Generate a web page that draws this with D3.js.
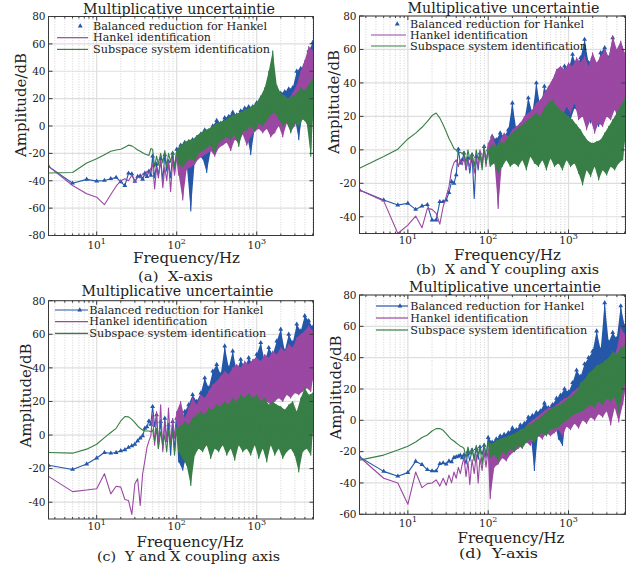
<!DOCTYPE html>
<html>
<head>
<meta charset="utf-8">
<script src="https://cdn.jsdelivr.net/npm/d3@7"></script>
<style>
body { margin: 0; background: #fff; }
text { font-family: "DejaVu Serif", serif; fill: #222; }
</style>
</head>
<body>
<svg id="fig" width="633" height="574"></svg>
<script>
// frequency grid: 2.5 Hz steps below 50 Hz, thinned log steps above
var fLow = [2.5, 5, 7.5, 10, 12.5, 15, 17.5, 20, 22.5, 25, 27.5, 30, 32.5, 35, 37.5, 40, 42.5, 45, 47.5];
var fDense = [50, 53, 56, 59, 63, 67, 71, 75, 79, 84, 89, 94,
  100, 106, 112, 119, 126, 133, 141, 150, 158, 168, 178, 188,
  200, 211, 224, 237, 251, 266, 282, 299, 316, 335, 355, 376,
  398, 422, 447, 473, 501, 531, 562, 596, 631, 668, 708, 750,
  794, 841, 891, 944, 1000, 1059, 1122, 1189, 1259, 1334, 1413, 1496,
  1585, 1679, 1778, 1884, 1995, 2113, 2239, 2371, 2512, 2661, 2818, 2985,
  3162, 3350, 3548, 3758, 3981, 4217, 4467, 4732, 5012, 5120];

var legendNames = ['Balanced reduction for Hankel', 'Hankel identification', 'Subspace system identification'];
var xTickLabels = ['1', '2', '3'];

// (a) X-axis
var aBlueLow = [-29.5, -41.8, -39, -40.3, -39.8, -38.5, -37.6, -40.8, -43.5, -34.5, -35, -40.5, -37, -36.5, -39, -34.5, -37, -33, -36];
var aHankLow = [-29.5, -43.5, -49.5, -52, -57.5, -50, -44, -40, -38.5, -40, -36, -41, -37.5, -38, -35, -36.5, -33, -35, -31];
var aSubLow = [-34.3, -34, -27, -24, -21, -18.5, -17.5, -17, -15.5, -14, -14.5, -16, -17.5, -18.5, -19.5, -20.5, -21, -21.5, -16.5];
var aBlueDense = [-22, -38, -28, -36, -24, -40, -21, -33, -26, -38, -20, -34,
  -17, -30, -14, -33, -12, -28, -15, -62, -10, -26, -9, -22,
  -6, -24, -3, -34, -4, -18, 0, -16, 4, -14, 2, -12,
  6, -10, 7, -8, 10, -6, 8, -8, 11, -4, 13, -6,
  14, -21, 14, -2, 17, 0, 20, 2, 21, 4, 24, -2,
  24, 2, 22, 4, 24, 0, 25, 5, 27, 2, 28, 6,
  40, -10, 42, 10, 45, 15, 55, 20, 61, 35];
var aHankDense = [-28, -46, -30, -38, -25, -45, -30, -40, -26, -48, -24, -36,
  -22, -36, -20, -54, -16, -32, -14, -30, -12, -28, -10, -24,
  -8, -22, -6, -20, -5, -18, -3, -22, 0, -16, -2, -14,
  2, -12, 3, -18, 5, -10, 6, -12, 8, -6, 10, -14,
  10, -8, 12, -4, 14, -2, 15, -5, 16, -2, 18, -8,
  20, -5, 18, 0, 20, -8, 22, 2, 20, -4, 24, 0,
  30, 8, 40, 15, 48, 18, 58, 22, 55, 30];
var aSubDense = [-17, -30, -22, -28, -20, -27, -18, -30, -20, -26, -19, -30,
  -18, -28, -14, -30, -12, -26, -10, -24, -10, -26, -7, -20,
  -5, -18, -3, -16, -2, -14, 0, -20, 2, -12, 3, -10,
  4, -8, 6, -10, 8, -6, 9, -15, 10, -4, 12, -3,
  13, 0, 15, -4, 17, 2, 22, 0, 28, 4, 40, 8,
  55, 10, 30, 5, 24, 0, 22, 3, 20, -5, 22, 2,
  24, 0, 28, 5, 26, 2, 30, -22, 35, 12];

// (b) X and Y coupling axis
var bBlueLow = [-24, -30, -33, -32, -35.6, -33.6, -32.8, -42, -42, -31, -31, -30, -25.6, -19, -20, -15, 0.4, -8, -6];
var bHankLow = [-24, -30.5, -50, -45, -39.6, -46.6, -35, -35.6, -38, -44.4, -34, -28, -22, -12, -7.6, -6, -10, -6, -9];
var bSubLow = [-11, -4, 0.4, 6.5, 10, 13.5, 17, 20.5, 22, 19, 15, 10.8, 6.8, 3.8, 0.8, -0.2, -1.8, -1.4, -2.2];
var bBlueDense = [-2, -12, -5, -14, -3, -29, -4, -12, -2, -10, 2, -8,
  0, -6, 8, -5, 6, -8, 10, -2, 8, -4, 12, 0,
  28, 2, 12, 0, 15, 4, 18, -2, 31, 6, 22, 4,
  40, 8, 25, 10, 38, 12, 30, 18, 40, 16, 45, 20,
  42, 22, 50, 20, 48, 18, 57, 25, 50, 22, 55, 20,
  66, 24, 52, 16, 55, 22, 48, 14, 58, 20, 61, 25,
  55, 22, 67, 25, 58, 20, 62, 28, 54, 30];
var bHankDense = [-4, -12, -6, -10, -2, -14, -5, -10, 0, -8, 2, -10,
  4, -8, 9, -6, 2, -35, 6, -5, 10, -2, 8, 2,
  12, -2, 14, 2, 16, -4, 20, 6, 22, 2, 24, 8,
  28, 6, 30, 12, 34, 14, 38, 20, 42, 22, 48, 24,
  50, 20, 48, 26, 52, 22, 50, 28, 55, 18, 52, 20,
  56, 12, 50, 18, 58, 10, 52, 16, 56, 14, 60, 20,
  55, 18, 68, 24, 60, 18, 65, 26, 58, 32];
var bSubDense = [-1, -8, 0, -6, -2, -10, 0, -6, -2, -12, 2, -8,
  0, -10, 3, -8, 2, -14, 5, -10, 4, -6, 8, -10,
  10, -8, 12, -10, 14, -6, 16, -12, 18, -4, 20, -8,
  22, -10, 20, -6, 25, -12, 28, -5, 30, -10, 26, -8,
  24, -12, 22, -6, 20, -10, 18, -8, 15, -14, 12, -21,
  8, -12, 5, -16, 4, -10, 5, -18, 6, -12, 10, -15,
  14, -10, 18, -12, 22, -8, 26, -6, 31, 8];

// (c) Y and X coupling axis
var cBlueLow = [-18, -20.5, -17.3, -13.7, -10.4, -10.8, -10.4, -9.4, -8.8, -7.4, -6.4, -5.5, -3.5, -1.9, -0.5, 4, 4.8, 8.4, 6.4];
var cHankLow = [-24.6, -33.7, -32.7, -32, -23, -35, -30.5, -31, -38.4, -39, -47.3, -29, -26, -42, -23.2, -15.3, -7.4, -3.5, -0.5];
var cSubLow = [-10.4, -10.8, -8.4, -5.5, -1.5, 1.5, 4, 8.4, 11, 10.8, 9.3, 7.4, 5.4, 4, 3, 2.4, 2.4, 2.4, 2];
var cBlueDense = [17, 5, 12, -5, 8, -8, 10, -4, 6, -12, 8, -10,
  10, -16, 6, -21, 14, -12, 18, -6, 24, 0, 20, 2,
  25, 4, 34, 6, 28, 8, 38, 10, 42, 12, 36, 14,
  53, 16, 40, 18, 50, 16, 38, 20, 45, 18, 40, 22,
  46, 20, 42, 22, 48, 24, 55, 22, 44, 26, 52, 24,
  48, 26, 56, 28, 63, 26, 50, 28, 60, 26, 55, 30,
  66, 28, 62, 30, 71, 32, 68, 30, 64, 38];
var cHankDense = [12, -6, 14, -8, 18, -10, 8, -4, 16, -6, 10, -2,
  14, -4, 20, -8, 10, -2, 16, 0, 22, -4, 18, 2,
  24, 0, 22, 4, 26, 6, 30, 4, 32, 8, 35, 10,
  38, 12, 36, 14, 40, 15, 42, 16, 40, 18, 44, 15,
  42, 16, 45, 18, 46, 20, 44, 16, 48, 20, 46, 18,
  50, 20, 48, 22, 52, 20, 50, 24, 54, 22, 52, 25,
  58, 24, 60, 26, 62, 28, 65, 26, 62, 35];
var cSubDense = [3, -4, 4, -8, 2, -6, 0, -10, 3, -6, 2, -12,
  4, -10, 5, -14, 8, -18, 6, -30, 10, -12, 12, -8,
  14, -10, 12, -6, 16, -14, 15, -8, 18, -10, 17, -6,
  20, -12, 18, -8, 22, -15, 20, -6, 24, -10, 22, -8,
  25, -12, 22, -6, 24, -14, 20, -8, 22, -16, 18, -6,
  20, -12, 18, -8, 17, -14, 15, -10, 18, -8, 20, -12,
  14, -22, 22, -10, 28, -8, 24, -12, 25, 5];

// (d) Y-axis
var dBlueLow = [-23.4, -32.6, -35.7, -33.4, -26.2, -28.3, -31.5, -32.3, -32.3, -27.7, -27.2, -28, -26, -26.6, -23.8, -23.4, -23, -22.3, -24];
var dHankLow = [-23.4, -37, -40, -53.6, -33, -43, -40.4, -40, -38, -42, -37, -41.5, -35, -39.8, -33, -37, -30, -34, -28];
var dSubLow = [-25.4, -22.2, -19, -16.5, -13.8, -11, -9.4, -6.8, -5.3, -5.2, -6.4, -8.5, -10.6, -12.3, -13.2, -14.5, -15.5, -16.5, -17];
var dBlueDense = [-22, -28, -20, -26, -19, -24, -18, -25, -17, -22, -16, -24,
  -11, -22, -14, -20, -12, -19, -10, -18, -9, -16, -8, -15,
  -5, -14, -6, -12, -3, -11, -2, -10, 2, -8, 3, -32,
  5, -6, 6, -5, 11, -4, 8, -2, 10, -1, 14, -12,
  16, -16, 20, 4, 18, 6, 24, 8, 32, 10, 28, 12,
  36, 16, 40, 18, 44, 20, 57, 22, 45, 24, 75, 26,
  50, 28, 56, 30, 52, 30, 73, 32, 60, 35];
var dHankDense = [-24, -36, -26, -41, -25, -34, -22, -40, -24, -32, -20, -30,
  -18, -50, -20, -30, -16, -28, -18, -24, -14, -26, -12, -22,
  -10, -20, -8, -18, -6, -16, -5, -14, -2, -16, 0, -12,
  2, -10, 4, -12, 6, -8, 8, -10, 8, -8, 10, -6,
  12, -10, 14, -4, 15, -6, 18, -2, 20, -5, 22, 0,
  24, -2, 26, 2, 28, 0, 30, 4, 32, 2, 34, 6,
  36, -3, 40, 8, 45, -1, 59, 10, 55, 20];
var dSubDense = [-18, -24, -17, -22, -18, -26, -16, -22, -17, -28, -15, -22,
  -14, -24, -15, -22, -13, -26, -12, -20, -11, -22, -10, -18,
  -9, -20, -8, -16, -6, -18, -5, -14, -3, -12, -2, -14,
  0, -10, 2, -8, 4, -10, 6, -6, 8, -5, 9, -4,
  10, -2, 12, 0, 14, 2, 16, 4, 18, 5, 24, 6,
  26, 8, 30, 10, 32, 8, 35, 12, 36, 10, 38, 14,
  40, 12, 44, 15, 42, 5, 46, 18, 48, 25];

var blue = '#2557a9', purple = '#9a48a2', green = '#387e47';

var panels = [
  { id: 'a', x0: 48.5, x1: 313.5, y0: 16.5, y1: 235.5, ymin: -80, ymax: 80, tickY: 248.5,
    series: [[aBlueLow, aBlueDense], [aHankLow, aHankDense], [aSubLow, aSubDense]],
    title: [179, 13.5], xlab: [186.5, 263], cap: [175.5, 281, '(a)  X-axis', 75], ylab: [26, 105],
    leg: { x: 93, y: 26, dy: 11.7, l0: 57, l1: 88, blueLine: false } },
  { id: 'b', x0: 359.5, x1: 625.5, y0: 16, y1: 233.5, ymin: -50, ymax: 80, tickY: 244,
    series: [[bBlueLow, bBlueDense], [bHankLow, bHankDense], [bSubLow, bSubDense]],
    title: [503.5, 13], xlab: [507.5, 259.5], cap: [507.5, 274, '(b)  X and Y coupling axis', 183], ylab: [339, 102],
    leg: { x: 410, y: 24, dy: 11, l0: 371, l1: 406, blueLine: false } },
  { id: 'c', x0: 48.5, x1: 313.5, y0: 300.7, y1: 519, ymin: -50, ymax: 80, tickY: 530,
    series: [[cBlueLow, cBlueDense], [cHankLow, cHankDense], [cSubLow, cSubDense]],
    title: [177.5, 296], xlab: [190, 546.5], cap: [188.5, 561, '(c)  Y and X coupling axis', 183], ylab: [31, 395.5],
    leg: { x: 89.3, y: 310, dy: 11.7, l0: 55, l1: 88, blueLine: true } },
  { id: 'd', x0: 359.5, x1: 625.5, y0: 295, y1: 514.3, ymin: -60, ymax: 80, tickY: 527,
    series: [[dBlueLow, dBlueDense], [dHankLow, dHankDense], [dSubLow, dSubDense]],
    title: [505, 292], xlab: [511, 542.5], cap: [498.5, 558, '(d)  Y-axis', 79], ylab: [341, 387.5],
    leg: { x: 410.3, y: 306, dy: 12, l0: 376, l1: 408, blueLine: true } }
];

var colors = [blue, purple, green];
var svg = d3.select('#fig');
svg.append('rect').attr('width', 633).attr('height', 574).attr('fill', '#fff');

function points(low, dense) {
  var p = fLow.map(function (f, i) { return { f: f, v: low[i], low: true, i: i }; });
  return p.concat(fDense.map(function (f, i) { return { f: f, v: dense[i], low: false, i: i }; }));
}

panels.forEach(function (P) {
  var g = svg.append('g');
  var x = d3.scaleLog().domain([2.5, 5120]).range([P.x0, P.x1]);
  var y = d3.scaleLinear().domain([P.ymin, P.ymax]).range([P.y1, P.y0]);
  var yt = d3.range(Math.ceil(P.ymin / 20) * 20, P.ymax + 1, 20);
  var xt = x.ticks();
  var decades = [10, 100, 1000];

  // grid
  g.selectAll('.minor').data(xt.filter(function (d) { return decades.indexOf(d) < 0; }))
    .enter().append('line')
    .attr('x1', function (d) { return x(d); }).attr('x2', function (d) { return x(d); })
    .attr('y1', P.y0).attr('y2', P.y1)
    .attr('stroke', '#c8c8c8').attr('stroke-width', 0.8).attr('stroke-dasharray', '1,1.6');
  g.selectAll('.major').data(decades)
    .enter().append('line')
    .attr('x1', function (d) { return x(d); }).attr('x2', function (d) { return x(d); })
    .attr('y1', P.y0).attr('y2', P.y1)
    .attr('stroke', '#dedede').attr('stroke-width', 1.2);
  g.selectAll('.hgrid').data(yt)
    .enter().append('line')
    .attr('x1', P.x0).attr('x2', P.x1)
    .attr('y1', function (d) { return y(d); }).attr('y2', function (d) { return y(d); })
    .attr('stroke', '#dedede').attr('stroke-width', 1.2);

  // data
  var clipId = 'clip-' + P.id;
  svg.append('clipPath').attr('id', clipId).append('rect')
    .attr('x', P.x0).attr('y', P.y0).attr('width', P.x1 - P.x0).attr('height', P.y1 - P.y0);
  var plot = g.append('g').attr('clip-path', 'url(#' + clipId + ')');
  var line = d3.line().x(function (d) { return x(d.f); }).y(function (d) { return y(d.v); });
  var tri = d3.symbol().type(d3.symbolTriangle).size(10);

  P.series.forEach(function (s, k) {
    var pts = points(s[0], s[1]);
    // above 100 Hz the trace is so dense it reads as a band: peaks on top, troughs back along the bottom
    var dense = pts.filter(function (d) { return !d.low && d.f >= 100; });
    var peaks = dense.filter(function (d) { return d.i % 2 === 0; });
    var troughs = dense.filter(function (d) { return d.i % 2 === 1; }).reverse();
    plot.append('path')
      .attr('d', line(peaks.concat(troughs)) + 'Z')
      .attr('fill', colors[k]).attr('stroke', 'none');
    plot.append('path').datum(pts)
      .attr('d', line).attr('fill', 'none')
      .attr('stroke', colors[k]).attr('stroke-width', 1.1).attr('stroke-linejoin', 'round');
    if (k === 0) {
      plot.selectAll('.mk').data(pts.filter(function (d) { return d.low || d.i % 2 === 0; }))
        .enter().append('path')
        .attr('d', tri)
        .attr('transform', function (d) { return 'translate(' + x(d.f) + ',' + y(d.v) + ')'; })
        .attr('fill', blue);
    }
  });

  // frame and ticks
  g.append('rect').attr('x', P.x0).attr('y', P.y0)
    .attr('width', P.x1 - P.x0).attr('height', P.y1 - P.y0)
    .attr('fill', 'none').attr('stroke', '#3a3a3a').attr('stroke-width', 1);
  yt.forEach(function (d) {
    g.append('line').attr('x1', P.x0).attr('x2', P.x0 + 4).attr('y1', y(d)).attr('y2', y(d)).attr('stroke', '#3a3a3a');
    g.append('line').attr('x1', P.x1).attr('x2', P.x1 - 4).attr('y1', y(d)).attr('y2', y(d)).attr('stroke', '#3a3a3a');
    g.append('text').attr('x', P.x0 - 3).attr('y', y(d) + 3.8)
      .attr('text-anchor', 'end').attr('font-size', 10.5).text(d);
  });
  xt.forEach(function (d) {
    var len = decades.indexOf(d) < 0 ? 2 : 4;
    g.append('line').attr('x1', x(d)).attr('x2', x(d)).attr('y1', P.y1).attr('y2', P.y1 - len).attr('stroke', '#3a3a3a');
    g.append('line').attr('x1', x(d)).attr('x2', x(d)).attr('y1', P.y0).attr('y2', P.y0 + len).attr('stroke', '#3a3a3a');
  });
  decades.forEach(function (d, i) {
    var t = g.append('text').attr('x', x(d)).attr('y', P.tickY)
      .attr('text-anchor', 'middle').attr('font-size', 10.5);
    t.append('tspan').text('10');
    t.append('tspan').attr('dy', -5).attr('font-size', 8).text(xTickLabels[i]);
  });

  // titles and labels
  g.append('text').attr('x', P.title[0]).attr('y', P.title[1])
    .attr('text-anchor', 'middle').attr('font-size', 14)
    .attr('textLength', 192).attr('lengthAdjust', 'spacingAndGlyphs')
    .text('Multiplicative uncertaintie');
  g.append('text').attr('x', P.xlab[0]).attr('y', P.xlab[1])
    .attr('text-anchor', 'middle').attr('font-size', 14.5)
    .attr('textLength', 107).attr('lengthAdjust', 'spacingAndGlyphs')
    .text('Frequency/Hz');
  g.append('text').attr('x', P.cap[0]).attr('y', P.cap[1])
    .attr('text-anchor', 'middle').attr('font-size', 13.5)
    .attr('textLength', P.cap[3]).attr('lengthAdjust', 'spacingAndGlyphs')
    .attr('xml:space', 'preserve')
    .text(P.cap[2]);
  g.append('text')
    .attr('transform', 'translate(' + P.ylab[0] + ',' + P.ylab[1] + ') rotate(-90)')
    .attr('text-anchor', 'middle').attr('font-size', 15)
    .attr('textLength', 104).attr('lengthAdjust', 'spacingAndGlyphs')
    .text('Amplitude/dB');

  // legend
  var widths = [174, 118, 177];
  legendNames.forEach(function (name, k) {
    var ly = P.leg.y + k * P.leg.dy;
    if (k > 0 || P.leg.blueLine) {
      g.append('line').attr('x1', P.leg.l0).attr('x2', P.leg.l1).attr('y1', ly).attr('y2', ly)
        .attr('stroke', colors[k]).attr('stroke-width', 1.2);
    }
    if (k === 0) {
      g.append('path').attr('d', tri)
        .attr('transform', 'translate(' + (P.leg.l0 + 0.75 * (P.leg.l1 - P.leg.l0)) + ',' + ly + ')')
        .attr('fill', blue);
    }
    g.append('text').attr('x', P.leg.x).attr('y', ly + 3.6)
      .attr('font-size', 10.5)
      .attr('textLength', widths[k]).attr('lengthAdjust', 'spacingAndGlyphs')
      .text(name);
  });
});
</script>
</body>
</html>
